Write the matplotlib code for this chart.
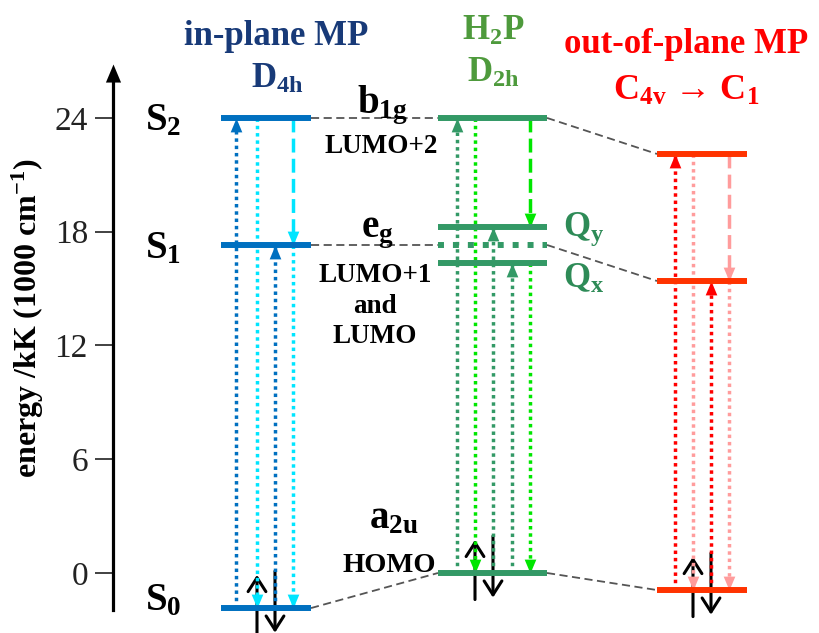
import matplotlib.pyplot as plt
from matplotlib.path import Path

plt.rcParams['font.family'] = ['Liberation Serif', 'DejaVu Serif']
plt.rcParams['font.weight'] = 'bold'
plt.rcParams['mathtext.fontset'] = 'custom'
plt.rcParams['mathtext.rm'] = 'Liberation Serif:bold'
plt.rcParams['mathtext.bf'] = 'Liberation Serif:bold'
plt.rcParams['mathtext.it'] = 'Liberation Serif:bold'
plt.rcParams['mathtext.default'] = 'bf'

# state energies, kK (1000 cm^-1)
inplane_E = [-1.85, 17.3, 24.0]        # S0, S1, S2
h2p_E = [0.0, 16.35, 18.25, 24.0]      # a2u (HOMO), Qx, Qy, b1g
h2p_eg = 17.3                          # e_g (LUMO+1 and LUMO)
outplane_E = [-0.9, 15.4, 22.1]        # S0, S1, S2

tick_vals = [0, 6, 12, 18, 24]
tick_labels = ['0', '6', '12', '18', '24']

# transitions as (from state, to state) per column, in drawing order
inplane_trans = [(0, 2), (2, 0), (0, 1), (2, 1), (1, 0)]
h2p_trans = [(0, 3), (3, 0), (0, 2), (0, 1), (3, 2), (1, 0)]
outplane_trans = [(0, 2), (2, 0), (0, 1), (2, 1), (1, 0)]

# layout (x in pixels)
AXIS_X = 113
cols = {
    'in': dict(x0=221, x1=311, xs=[236, 257, 275, 293, 293]),
    'h2p': dict(x0=438, x1=547, xs=[457, 475, 493, 512, 530, 530]),
    'out': dict(x0=657, x1=747, xs=[675, 693, 711, 729, 729]),
}

BLUE, CYAN = '#0070C0', '#00E5FF'
GREEN, LIME = '#339966', '#00E600'
RED_LVL, RED, PINK = '#FF3300', '#FF0000', '#FF9C9C'
DOT = (0, (1, 1.1))
DASH = (0, (4, 1.8))

tip_up = Path([(0, 0), (-0.42, -1), (0.42, -1), (0, 0)],
              [Path.MOVETO, Path.LINETO, Path.LINETO, Path.CLOSEPOLY])
tip_down = Path([(0, 0), (-0.42, 1), (0.42, 1), (0, 0)],
                [Path.MOVETO, Path.LINETO, Path.LINETO, Path.CLOSEPOLY])

fig = plt.figure(figsize=(8.2, 6.33), dpi=100)
ax = fig.add_axes([0, 0, 1, 1])
ax.set_xlim(0, 820)
ax.set_ylim(-3.165, 30.22)


def level(col, e, color, ls='-'):
    c = cols[col]
    ax.plot([c['x0'], c['x1']], [e, e], color=color, lw=4.3, ls=ls,
            solid_capstyle='butt', zorder=3)


def transition(x, e0, e1, color, ls):
    ax.plot([x, x], [e0, e1], color=color, lw=2.5, ls=ls, zorder=2)
    ax.plot(x, e1, marker=tip_up if e1 > e0 else tip_down, ms=20,
            color=color, mew=0, zorder=2.5)


def electrons(x_up, x_down, e):
    arrow = dict(arrowstyle='->,head_length=0.5,head_width=0.32', lw=2.2,
                 color='k', shrinkA=0, shrinkB=0, mutation_scale=20)
    ax.annotate('', xy=(x_up, e + 1.75), xytext=(x_up, e - 1.4),
                arrowprops=arrow, zorder=1.5)
    ax.annotate('', xy=(x_down, e - 1.3), xytext=(x_down, e + 1.95),
                arrowprops=arrow, zorder=1.5)


def connect(e_left, col_left, e_right, col_right):
    ax.plot([cols[col_left]['x1'], cols[col_right]['x0']], [e_left, e_right],
            color='#555555', lw=1.3, ls=(0, (4.5, 2.5)), zorder=1)


# energy levels
for e in inplane_E:
    level('in', e, BLUE)
for e in h2p_E:
    level('h2p', e, GREEN)
level('h2p', h2p_eg, GREEN, ls=(0, (1, 1.5)))
for e in outplane_E:
    level('out', e, RED_LVL)

# correlation lines between the three species
connect(inplane_E[2], 'in', h2p_E[3], 'h2p')
connect(h2p_E[3], 'h2p', outplane_E[2], 'out')
connect(inplane_E[1], 'in', h2p_eg, 'h2p')
connect(h2p_eg, 'h2p', outplane_E[1], 'out')
connect(inplane_E[0], 'in', h2p_E[0], 'h2p')
connect(h2p_E[0], 'h2p', outplane_E[0], 'out')

# absorption (dotted up), emission / relaxation (down)
styles_in = [(BLUE, DOT), (CYAN, DOT), (BLUE, DOT), (CYAN, DASH), (CYAN, DOT)]
styles_h2p = [(GREEN, DOT), (LIME, DOT), (GREEN, DOT), (GREEN, DOT),
              (LIME, DASH), (LIME, DOT)]
styles_out = [(RED, DOT), (PINK, DOT), (RED, DOT), (PINK, DASH), (PINK, DOT)]

for col, E, trans, styles in [('in', inplane_E, inplane_trans, styles_in),
                              ('h2p', h2p_E, h2p_trans, styles_h2p),
                              ('out', outplane_E, outplane_trans, styles_out)]:
    xs = cols[col]['xs']
    for x, (i, j), (c, ls) in zip(xs, trans, styles):
        transition(x, E[i], E[j], c, ls)
    electrons(xs[1], xs[2], E[0])

# energy axis with arrow head
for s in ['top', 'right', 'bottom']:
    ax.spines[s].set_visible(False)
ax.xaxis.set_visible(False)
ax.spines['left'].set_position(('data', AXIS_X))
ax.spines['left'].set_linewidth(2.3)
ax.spines['left'].set_bounds(-1.95, 26.3)
ax.plot(AXIS_X, 26.85, marker=tip_up, ms=26, color='k', mew=0, clip_on=False)
ax.set_yticks(tick_vals)
ax.set_yticklabels(tick_labels, fontweight='normal')
ax.tick_params(axis='y', direction='out', length=13, width=1.3, color='#333333',
               labelsize=24, pad=5, labelcolor='#222222')
ax.text(28, 13.45, 'energy /kK (1000 cm$^{-1}$)', rotation=90, ha='center',
        va='center', fontsize=23)

# state labels
for e, lab, off in zip(inplane_E, ['S$_0$', 'S$_1$', 'S$_2$'], [-0.1, -0.69, -0.63]):
    ax.text(163, e + off, lab, ha='center', va='baseline', fontsize=28)

ax.text(382, h2p_E[3] + 0.26, 'b$_{1g}$', ha='center', va='baseline', fontsize=28)
ax.text(381, h2p_E[3] - 1.85, 'LUMO+2', ha='center', va='baseline', fontsize=19.5)
ax.text(377, h2p_eg + 0.42, 'e$_g$', ha='center', va='baseline', fontsize=28)
for off, s in zip([-1.95, -3.59, -5.17], ['LUMO+1', 'and', 'LUMO']):
    ax.text(375, h2p_eg + off, s, ha='center', va='baseline', fontsize=19.5)
ax.text(394, h2p_E[0] + 2.37, 'a$_{2u}$', ha='center', va='baseline', fontsize=28)
ax.text(389, h2p_E[0] + 0.05, 'HOMO', ha='center', va='baseline', fontsize=20.5)
ax.text(563, h2p_E[2] - 0.48, 'Q$_y$', ha='left', va='baseline', fontsize=25,
        color='#2E8B57')
ax.text(563, h2p_E[1] - 1.32, 'Q$_x$', ha='left', va='baseline', fontsize=25,
        color='#2E8B57')

# species headers
NAVY, OLIVE = '#183A78', '#4E9A3C'
fig.text(276 / 820, 1 - 45 / 633, 'in-plane MP', ha='center', va='baseline',
         fontsize=25, color=NAVY)
fig.text(277 / 820, 1 - 88 / 633, 'D$_{4h}$', ha='center', va='baseline',
         fontsize=25, color=NAVY)
fig.text(493 / 820, 1 - 40 / 633, 'H$_2$P', ha='center', va='baseline',
         fontsize=25, color=OLIVE)
fig.text(493 / 820, 1 - 82 / 633, 'D$_{2h}$', ha='center', va='baseline',
         fontsize=25, color=OLIVE)
fig.text(686 / 820, 1 - 53 / 633, 'out-of-plane MP', ha='center', va='baseline',
         fontsize=25, color=RED)
fig.text(686 / 820, 1 - 100 / 633, 'C$_{4v}$ \u2192 C$_1$', ha='center',
         va='baseline', fontsize=26, color=RED)

fig.savefig('out.png', dpi=100)
